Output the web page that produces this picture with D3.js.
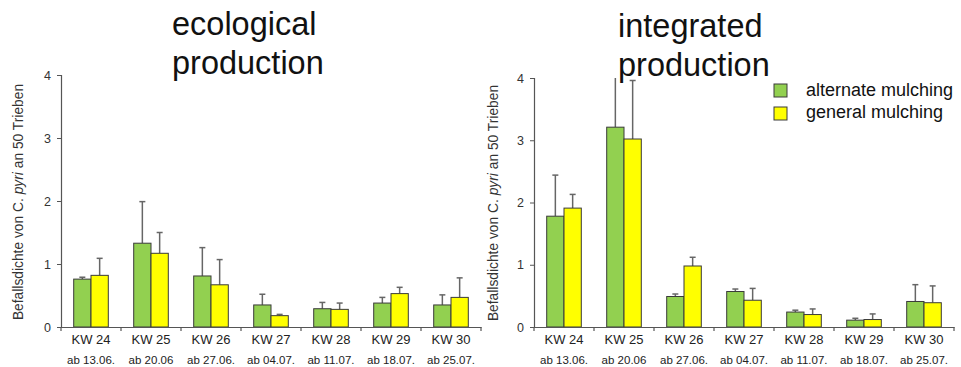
<!DOCTYPE html>
<html>
<head>
<meta charset="utf-8">
<script src="https://cdn.jsdelivr.net/npm/d3@7"></script>
<style>
  html, body { margin: 0; padding: 0; background: #fff; }
  svg { display: block; font-family: "Liberation Sans", Arial, sans-serif; }
</style>
</head>
<body>
<svg id="chart" width="961" height="367"></svg>
<script>
// ---- data ----
const categories = ["KW 24", "KW 25", "KW 26", "KW 27", "KW 28", "KW 29", "KW 30"];
const dates = ["ab 13.06.", "ab 20.06", "ab 27.06.", "ab 04.07.", "ab 11.07.", "ab 18.07.", "ab 25.07."];
const seriesNames = ["alternate mulching", "general mulching"];
const yTicks = [0, 1, 2, 3, 4];

// ecological production
const ecoAlternate    = [0.76, 1.33, 0.81, 0.35, 0.29, 0.38, 0.35];
const ecoAlternateSD  = [0.03, 0.66, 0.45, 0.17, 0.10, 0.09, 0.16];
const ecoGeneral      = [0.82, 1.17, 0.67, 0.18, 0.28, 0.53, 0.47];
const ecoGeneralSD    = [0.27, 0.33, 0.40, 0.02, 0.10, 0.10, 0.31];
// integrated production
const intAlternate    = [1.78, 3.21, 0.49, 0.57, 0.24, 0.11, 0.41];
const intAlternateSD  = [0.66, 1.00, 0.04, 0.04, 0.03, 0.03, 0.27];
const intGeneral      = [1.91, 3.02, 0.98, 0.43, 0.20, 0.12, 0.39];
const intGeneralSD    = [0.22, 0.94, 0.14, 0.19, 0.09, 0.09, 0.27];

const colors = ["#92D050", "#FFFF00"];

const svg = d3.select("#chart");

function panel(cfg) {
  const g = svg.append("g");
  const x = d3.scaleBand().domain(categories).range([cfg.x0, cfg.x1]);
  const xs = d3.scaleBand().domain([0, 1]).range([0, 34.6]);
  const y = d3.scaleLinear().domain([0, 4]).range([cfg.yBottom, cfg.yTop]);

  const clipId = "clip" + cfg.id;
  svg.append("clipPath").attr("id", clipId).append("rect")
    .attr("x", cfg.x0).attr("y", cfg.yTop).attr("width", cfg.x1 - cfg.x0).attr("height", cfg.yBottom - cfg.yTop);

  const series = [cfg.alt, cfg.gen];
  const sds = [cfg.altSD, cfg.genSD];

  series.forEach((vals, si) => {
    const off = x.bandwidth() / 2 - 17.3;
    // error bars
    const eg = g.append("g").attr("clip-path", `url(#${clipId})`);
    eg.selectAll("line.err").data(vals).enter().append("line")
      .attr("x1", (d, i) => x(categories[i]) + off + xs(si) + xs.bandwidth() / 2)
      .attr("x2", (d, i) => x(categories[i]) + off + xs(si) + xs.bandwidth() / 2)
      .attr("y1", d => y(d))
      .attr("y2", (d, i) => y(d + sds[si][i]))
      .attr("stroke", "#666").attr("stroke-width", 1.5);
    eg.selectAll("line.cap").data(vals).enter().append("line")
      .attr("x1", (d, i) => x(categories[i]) + off + xs(si) + xs.bandwidth() / 2 - 3)
      .attr("x2", (d, i) => x(categories[i]) + off + xs(si) + xs.bandwidth() / 2 + 3)
      .attr("y1", (d, i) => y(d + sds[si][i]))
      .attr("y2", (d, i) => y(d + sds[si][i]))
      .attr("stroke", "#666").attr("stroke-width", 1.5);
    // bars
    g.selectAll(null).data(vals).enter().append("rect")
      .attr("x", (d, i) => x(categories[i]) + off + xs(si))
      .attr("y", d => y(d))
      .attr("width", xs.bandwidth())
      .attr("height", d => cfg.yBottom - y(d))
      .attr("fill", colors[si])
      .attr("stroke", "#3a3a3a").attr("stroke-width", 1);
  });

  // y axis
  const ya = g.append("g").attr("transform", `translate(${cfg.x0},0)`)
    .call(d3.axisLeft(y).tickValues(yTicks).tickFormat(d3.format("d")).tickSize(4).tickPadding(6));
  ya.select(".domain").attr("stroke", "#555").attr("stroke-width", 1.2);
  ya.selectAll(".tick line").attr("stroke", "#555");
  ya.selectAll("text").attr("font-size", 12.5).attr("fill", "#333").attr("font-family", "Liberation Sans, Arial, sans-serif");

  // x axis
  const xa = g.append("g").attr("transform", `translate(0,${cfg.yBottom})`)
    .call(d3.axisBottom(x).tickSize(0).tickFormat(""));
  xa.select(".domain").attr("stroke", "#555").attr("stroke-width", 1.2);
  // category boundary ticks
  const bounds = categories.map(c => x(c)).concat([cfg.x1]);
  g.selectAll(null).data(bounds).enter().append("line")
    .attr("x1", d => d).attr("x2", d => d)
    .attr("y1", cfg.yBottom).attr("y2", cfg.yBottom + 4)
    .attr("stroke", "#555").attr("stroke-width", 1.2);
  g.selectAll(null).data(categories).enter().append("text")
    .attr("x", d => x(d) + x.bandwidth() / 2)
    .attr("y", 344)
    .attr("text-anchor", "middle").attr("font-size", 13).attr("fill", "#222")
    .text(d => d);
  g.selectAll(null).data(dates).enter().append("text")
    .attr("x", (d, i) => x(categories[i]) + x.bandwidth() / 2)
    .attr("y", 364)
    .attr("text-anchor", "middle").attr("font-size", 11.5).attr("fill", "#222")
    .text(d => d);

  // y label
  const yl = g.append("text")
    .attr("transform", `translate(${cfg.ylabX},${cfg.ylabY}) rotate(-90)`)
    .attr("text-anchor", "middle").attr("font-size", 13.8).attr("fill", "#333");
  yl.append("tspan").text("Befallsdichte von C. ");
  yl.append("tspan").attr("font-style", "italic").text("pyri");
  yl.append("tspan").text(" an 50 Trieben");

  // title
  const t = g.append("text").attr("font-size", 32.5).attr("fill", "#111");
  cfg.title.forEach((line, i) => {
    t.append("tspan").attr("x", cfg.titleX).attr("y", cfg.titleY + i * 39).text(line);
  });
}

panel({ id: "eco", x0: 61, x1: 481, yTop: 75, yBottom: 327, ylabX: 23, ylabY: 202,
        alt: ecoAlternate, altSD: ecoAlternateSD, gen: ecoGeneral, genSD: ecoGeneralSD,
        title: ["ecological", "production"], titleX: 172, titleY: 35 });
panel({ id: "int", x0: 534, x1: 954, yTop: 78, yBottom: 327, ylabX: 498, ylabY: 203,
        alt: intAlternate, altSD: intAlternateSD, gen: intGeneral, genSD: intGeneralSD,
        title: ["integrated", "production"], titleX: 618, titleY: 37 });

// legend
const lg = svg.append("g");
seriesNames.forEach((name, i) => {
  lg.append("rect").attr("x", 774).attr("y", 84 + i * 23).attr("width", 13).attr("height", 13)
    .attr("fill", colors[i]).attr("stroke", "#3a3a3a").attr("stroke-width", 1);
  lg.append("text").attr("x", 806).attr("y", 96 + i * 22).attr("font-size", 18).attr("fill", "#111").text(name);
});
</script>
</body>
</html>
